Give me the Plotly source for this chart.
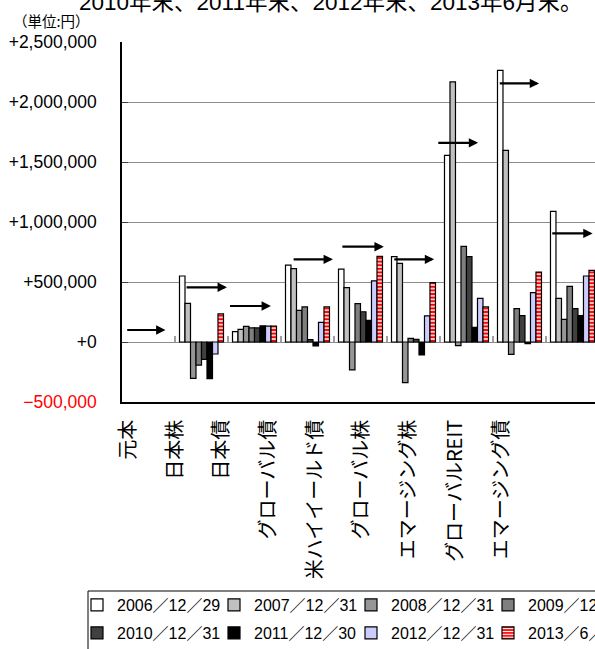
import plotly.graph_objects as go

# ---- data -------------------------------------------------------------
categories = ["元本", "日本株", "日本債", "グローバル債", "米ハイイールド債",
              "グローバル株", "エマージング株", "グローバルREIT", "エマージング債"]

dates = ["2006／12／29", "2007／12／31", "2008／12／31", "2009／12／31",
         "2010／12／31", "2011／12／30", "2012／12／31", "2013／6／28"]

v2006 = [None, 550000, 86000, 640000, 608000, 711000, 1555000, 2264000, 1089000]
v2007 = [None, 322000, 106000, 611000, 453000, 656000, 2167000, 1597000, 364000]
v2008 = [None, -303000, 131000, 264000, -233000, -339000, -30000, -103000, 189000]
v2009 = [None, -192000, 117000, 292000, 320000, 30000, 797000, 278000, 464000]
v2010 = [None, -145000, 117000, 20000, 252000, 22000, 711000, 219000, 278000]
v2011 = [None, -305000, 134000, -33000, 180000, -108000, 122000, -14000, 219000]
v2012 = [None, -100000, 132000, 164000, 510000, 217000, 364000, 411000, 550000]
v2013 = [None, 235000, 132000, 292000, 714000, 494000, 292000, 583000, 597000]

# level of the horizontal arrow drawn in each category
arrow_levels = [100000, 456000, 300000, 689000, 794000, 689000, 1660000, 2155000, 905000]

y_tickvals = [-500000, 0, 500000, 1000000, 1500000, 2000000, 2500000]
y_ticktext = ['<span style="color:#FF0000">−500,000</span>', "+0", "+500,000",
              "+1,000,000", "+1,500,000", "+2,000,000", "+2,500,000"]

# ---- styling ----------------------------------------------------------
series_values = [v2006, v2007, v2008, v2009, v2010, v2011, v2012, v2013]
fills = ["#FFFFFF", "#C0C0C0", "#969696", "#7F7F7F", "#404040", "#000000", "#CCCCFF", "#FF0000"]

# arrow tail / head, in category units relative to the category centre
arrow_tail = [-0.43, -0.31, -0.49, -0.29, -0.37, -0.39, -0.56, -0.40, -0.41]
arrow_head = [0.32, 0.48, 0.31, 0.48, 0.44, 0.39, 0.22, 0.37, 0.38]

W, H = 595, 649
ML, MR, MT, MB = 122, 0, 42, 247
y_range = [-500000, 2500000]
x_range = [-0.5, 8.425]
label_range = [-0.14, 10.0]

NUM_FONT = "Liberation Sans, Noto Sans CJK JP"
JP_FONT = "Noto Sans CJK JP"


def px_x(px):
    return (px - ML) / (W - ML - MR)


def px_y(py):
    return (H - MB - py) / (H - MT - MB)


zero_frac = (0 - y_range[0]) / (y_range[1] - y_range[0])

fig = go.Figure()

for k, (name, vals, fill) in enumerate(zip(dates, series_values, fills)):
    marker = dict(color=fill, line=dict(color="black", width=1.2))
    if name.startswith("2013"):
        marker["pattern"] = dict(shape="-", fgcolor="white", bgcolor=fill,
                                 size=3.6, solidity=0.4, fillmode="replace")
    fig.add_trace(go.Bar(x=categories, y=vals, name=name, marker=marker,
                         xaxis="x", yaxis="y",
                         legend="legend" if k < 4 else "legend2"))

# carrier for the category labels under the plot
fig.add_trace(go.Scatter(x=categories, y=[None] * len(categories), xaxis="x2", yaxis="y",
                         mode="markers", marker=dict(opacity=0), showlegend=False,
                         hoverinfo="skip"))

for i, lvl in enumerate(arrow_levels):
    fig.add_annotation(x=i + arrow_head[i], y=lvl, ax=i + arrow_tail[i], ay=lvl,
                       xref="x", yref="y", axref="x", ayref="y", text="",
                       showarrow=True, arrowhead=2, arrowsize=0.85, arrowwidth=2.2,
                       arrowcolor="black", standoff=0)

# heading line running off the top edge
fig.add_annotation(text="2010年末、2011年末、2012年末、2013年6月末。",
                   xref="paper", yref="paper", x=px_x(77), y=px_y(17),
                   xanchor="left", yanchor="bottom", showarrow=False,
                   font=dict(family=NUM_FONT, size=22.5, color="black"))

fig.add_annotation(text="（単位:円）", xref="paper", yref="paper",
                   x=px_x(11), y=px_y(21), xanchor="left", yanchor="middle",
                   showarrow=False, font=dict(family=JP_FONT, size=14.5, color="black"))

# legend frame
fig.add_shape(type="rect", xref="paper", yref="paper",
              x0=px_x(88), x1=px_x(700), y0=px_y(591), y1=px_y(700),
              line=dict(color="black", width=1), fillcolor="rgba(0,0,0,0)", layer="below")

legend_style = dict(orientation="h", x=px_x(77), xanchor="left", yanchor="top",
                    entrywidth=92, entrywidthmode="pixels", traceorder="normal",
                    font=dict(family=NUM_FONT, size=16, color="black"),
                    bgcolor="rgba(0,0,0,0)", borderwidth=0)

fig.update_layout(
    width=W, height=H,
    margin=dict(l=ML, r=MR, t=MT, b=MB, autoexpand=False),
    paper_bgcolor="white", plot_bgcolor="white",
    barmode="group", bargap=0.17, bargroupgap=0,
    font=dict(family=NUM_FONT, color="black"),
    showlegend=True,
    legend=dict(legend_style, y=px_y(588)),
    legend2=dict(legend_style, y=px_y(616)),
    xaxis=dict(type="category", range=x_range, anchor="free", position=zero_frac,
               showline=False, ticks="inside", tickson="boundaries", ticklen=6,
               tickcolor="#A0A0A0", tickwidth=1.5, showticklabels=False,
               showgrid=False, zeroline=False),
    xaxis2=dict(type="category", overlaying="x", anchor="y", side="bottom",
                range=label_range, showline=True, linecolor="black", linewidth=1.5,
                ticks="", tickangle=-90, ticklabelstandoff=8,
                tickfont=dict(family=JP_FONT, size=20, color="black"),
                showgrid=False, zeroline=False),
    yaxis=dict(range=y_range, tickmode="array", tickvals=y_tickvals, ticktext=y_ticktext,
               showgrid=True, gridcolor="#8C8C8C", gridwidth=1.3,
               zeroline=True, zerolinecolor="#8C8C8C", zerolinewidth=1.3,
               showline=True, linecolor="black", linewidth=1.5,
               ticks="inside", ticklen=6, tickcolor="#404040",
               ticklabelstandoff=20,
               tickfont=dict(family=NUM_FONT, size=17.5, color="black")),
)

fig.write_html("out.html", post_script=(
    "document.body.style.margin='0';"
    "document.body.style.overflow='hidden';"
    "document.documentElement.style.overflow='hidden';"))
